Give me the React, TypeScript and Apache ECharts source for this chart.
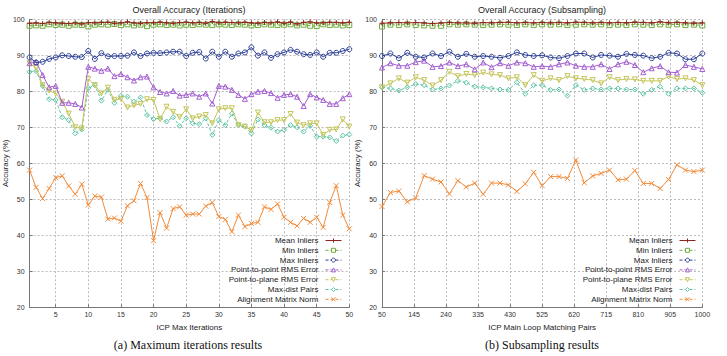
import React, { useEffect, useRef } from "react";
import * as echarts from "echarts";

// ---------- data ----------
const iterX = [1, 2, 3, 4, 5, 6, 7, 8, 9, 10, 11, 12, 13, 14, 15, 16, 17, 18, 19, 20, 21, 22, 23, 24, 25, 26, 27, 28, 29, 30, 31, 32, 33, 34, 35, 36, 37, 38, 39, 40, 41, 42, 43, 44, 45, 46, 47, 48, 49, 50];
const iterTicks = [5, 10, 15, 20, 25, 30, 35, 40, 45, 50];

const subX = [50, 75, 100, 125, 150, 175, 200, 225, 250, 275, 300, 325, 350, 375, 400, 425, 450, 475, 500, 525, 550, 575, 600, 625, 650, 675, 700, 725, 750, 775, 800, 825, 850, 875, 900, 925, 950, 975, 1000];
const subTicks = [50, 145, 240, 335, 430, 525, 620, 715, 810, 905, 1000];

const seriesNames = [
  "Mean Inliers",
  "Min Inliers",
  "Max Inliers",
  "Point-to-point RMS Error",
  "Point-to-plane RMS Error",
  "Max-dist Pairs",
  "Alignment Matrix Norm",
];

// Iterations panel
const iterMean = [98.9, 99.0, 98.8, 99.1, 99.0, 98.9, 98.8, 99.0, 98.7, 99.1, 99.0, 99.1, 99.2, 98.9, 99.0, 99.3, 99.0, 98.9, 99.1, 99.0, 99.2, 99.0, 98.9, 99.1, 99.2, 99.0, 99.1, 98.9, 99.4, 99.0, 99.2, 99.1, 99.0, 99.2, 99.0, 98.9, 99.1, 99.0, 99.3, 98.9, 99.2, 98.7, 99.1, 99.3, 99.0, 99.0, 99.2, 99.1, 99.0, 99.2];
const iterMin = [98.2, 98.3, 98.2, 98.6, 98.4, 98.5, 98.2, 98.5, 98.4, 98.0, 98.5, 98.6, 98.5, 98.7, 98.4, 98.6, 98.3, 98.5, 98.1, 98.5, 98.6, 98.4, 98.5, 98.3, 98.5, 98.4, 98.6, 98.5, 98.4, 98.6, 98.5, 98.4, 98.6, 98.5, 98.3, 98.4, 98.6, 98.5, 98.4, 98.5, 98.6, 98.3, 98.5, 98.2, 98.1, 98.6, 98.4, 98.5, 98.3, 98.4];
const iterMax = [89.4, 88.0, 88.2, 89.0, 89.4, 90.0, 89.8, 89.6, 89.5, 91.2, 89.0, 90.6, 89.7, 89.8, 89.8, 89.9, 90.8, 89.8, 90.5, 90.7, 90.6, 90.8, 91.0, 91.0, 89.8, 90.7, 90.9, 89.1, 91.0, 89.6, 91.0, 89.6, 90.5, 90.8, 92.2, 89.9, 90.8, 89.3, 90.3, 90.8, 91.5, 91.0, 90.3, 90.1, 90.8, 89.6, 90.7, 90.7, 91.2, 91.7];
const iterP2P = [87.8, 88.1, 84.5, 81.1, 81.5, 76.8, 76.8, 76.5, 75.5, 86.8, 86.3, 85.7, 86.3, 84.2, 84.8, 83.9, 83.0, 83.9, 84.1, 81.1, 79.8, 79.4, 80.1, 78.8, 79.0, 79.4, 78.5, 79.4, 76.6, 81.5, 81.3, 80.4, 79.0, 77.9, 79.2, 79.9, 80.1, 79.5, 78.2, 79.0, 79.2, 78.5, 75.9, 79.2, 78.3, 77.6, 76.5, 76.5, 78.1, 79.2];
const iterP2Plane = [87.8, 86.5, 81.7, 80.2, 79.4, 77.1, 73.8, 70.0, 69.7, 83.4, 81.7, 79.4, 81.0, 77.6, 77.9, 75.5, 76.1, 76.5, 77.8, 77.6, 72.3, 75.7, 74.3, 72.8, 75.0, 72.5, 73.0, 73.4, 71.1, 75.0, 75.3, 75.3, 70.6, 70.2, 69.2, 74.1, 71.4, 71.4, 72.0, 72.0, 73.7, 71.3, 70.6, 71.1, 71.1, 67.9, 69.3, 69.4, 72.2, 70.2];
const iterMaxDist = [85.4, 85.6, 81.5, 77.8, 77.6, 72.8, 72.0, 68.3, 69.4, 80.9, 81.7, 77.4, 80.4, 76.8, 78.7, 78.5, 77.1, 78.3, 73.4, 72.3, 72.5, 71.6, 72.8, 70.4, 72.5, 71.1, 70.9, 72.5, 67.9, 72.0, 70.6, 73.8, 70.6, 70.2, 68.3, 72.2, 70.6, 69.9, 68.8, 69.3, 70.6, 70.0, 68.8, 70.4, 67.4, 67.4, 67.2, 66.2, 67.7, 68.0];
const iterNorm = [58.1, 53.3, 50.2, 53.0, 56.0, 56.5, 53.7, 51.4, 54.2, 48.4, 50.9, 50.6, 44.5, 44.8, 43.9, 48.2, 49.6, 54.4, 50.5, 38.5, 46.3, 42.0, 47.4, 47.9, 45.6, 45.9, 45.9, 48.1, 49.1, 45.2, 44.4, 41.0, 45.6, 42.4, 43.3, 43.6, 47.9, 47.2, 48.7, 45.0, 43.6, 42.6, 44.7, 43.6, 45.0, 42.2, 49.1, 53.8, 45.6, 41.8];

// Subsampling panel
const subMean = [98.9, 99.0, 99.1, 99.0, 99.1, 99.0, 98.8, 99.0, 99.1, 99.0, 99.0, 98.9, 99.1, 99.0, 99.1, 99.2, 99.0, 99.1, 99.0, 99.1, 99.0, 99.1, 99.0, 99.2, 99.1, 99.0, 99.1, 99.0, 99.1, 99.0, 99.2, 99.1, 99.0, 99.3, 99.0, 99.1, 99.0, 98.9, 99.0];
const subMin = [98.0, 98.5, 98.4, 98.6, 98.4, 98.3, 98.2, 98.2, 98.6, 98.5, 98.6, 98.5, 98.4, 98.5, 98.6, 98.5, 98.4, 98.6, 98.4, 98.6, 98.5, 98.6, 98.4, 98.5, 98.6, 98.5, 98.6, 98.4, 98.5, 98.4, 98.6, 98.5, 98.4, 98.6, 98.5, 98.6, 98.4, 98.5, 98.3];
const subMax = [89.8, 90.5, 89.2, 90.7, 89.6, 89.4, 90.5, 89.8, 91.0, 89.6, 90.4, 89.6, 89.8, 89.6, 89.3, 89.8, 90.8, 90.1, 89.8, 90.0, 89.4, 89.2, 89.8, 90.5, 90.5, 89.4, 90.1, 89.9, 89.6, 90.4, 90.1, 89.9, 89.2, 89.6, 90.7, 90.5, 88.9, 88.9, 90.5];
const subP2P = [86.6, 87.8, 87.1, 87.1, 88.1, 88.5, 86.8, 87.0, 88.0, 87.0, 87.5, 86.1, 88.0, 86.7, 87.8, 87.1, 88.0, 87.8, 86.8, 87.0, 86.8, 87.5, 88.0, 87.1, 86.8, 86.8, 87.5, 86.2, 87.5, 88.2, 87.3, 85.3, 86.4, 87.0, 85.3, 85.2, 87.3, 86.8, 86.2];
const subP2Plane = [81.1, 82.2, 83.6, 82.4, 83.9, 83.1, 81.6, 83.1, 85.4, 84.2, 84.8, 84.5, 85.2, 84.7, 84.5, 83.6, 83.9, 81.7, 84.5, 82.9, 83.6, 83.1, 84.2, 83.6, 83.4, 83.1, 82.2, 83.9, 83.1, 83.4, 83.3, 82.9, 82.9, 82.9, 84.1, 83.4, 83.6, 83.1, 81.7];
const subMaxDist = [81.1, 80.8, 80.2, 81.1, 82.0, 81.7, 80.5, 80.8, 81.6, 82.9, 82.4, 81.3, 81.1, 80.8, 80.5, 80.4, 82.5, 79.3, 81.7, 81.7, 80.4, 80.5, 78.8, 81.7, 80.4, 80.8, 80.5, 80.8, 80.8, 80.5, 80.5, 79.3, 80.4, 81.3, 79.3, 80.8, 80.8, 80.8, 79.6];
const subNorm = [48.0, 51.9, 52.3, 49.3, 50.4, 56.6, 55.6, 54.8, 51.5, 55.2, 53.4, 54.5, 51.4, 54.5, 54.5, 54.0, 52.2, 54.3, 57.5, 53.8, 56.3, 56.3, 55.8, 60.9, 54.6, 56.5, 57.2, 58.1, 55.4, 55.6, 58.0, 54.4, 54.4, 53.0, 55.5, 59.6, 58.1, 57.7, 58.1];

const iterSeries = [iterMean, iterMin, iterMax, iterP2P, iterP2Plane, iterMaxDist, iterNorm];
const subSeries = [subMean, subMin, subMax, subP2P, subP2Plane, subMaxDist, subNorm];

// ---------- styles ----------
const SANS = "'Liberation Sans', Arial, sans-serif";
const SERIF = "'Liberation Serif', 'Times New Roman', serif";
const styles = [
  { color: "#8e261c", symbol: "path://M5,0L5,10M0,5L10,5", hollow: false, dash: false, size: 5 },
  { color: "#6fae3e", symbol: "rect", hollow: true, dash: true, size: 5 },
  { color: "#2d3f96", symbol: "circle", hollow: true, dash: false, size: 5 },
  { color: "#a35fd0", symbol: "triangle", hollow: true, dash: false, size: 5 },
  { color: "#c4c55a", symbol: "path://M0,0L10,0L5,9Z", hollow: true, dash: false, size: 5 },
  { color: "#5cc4a4", symbol: "diamond", hollow: true, dash: true, size: 5 },
  { color: "#f28b3a", symbol: "path://M0,0L10,10M10,0L0,10", hollow: false, dash: false, size: 5 },
];

const GRID_TOP = 19.3;
const GRID_H = 288;

function App() {
  const ref = useRef<HTMLDivElement>(null);

  useEffect(() => {
    if (!ref.current) return;
    const chart = echarts.init(ref.current, undefined, { renderer: "svg" });

    const itemStyleOf = (si: number) => {
      const st = styles[si];
      return {
        color: st.hollow ? "#ffffff" : st.color,
        borderColor: st.color,
        borderWidth: 1,
      };
    };

    const makeSeries = (xs: number[], data: number[][], axisIndex: number) =>
      data.map((vals, si) => {
        const st = styles[si];
        return {
          type: "line",
          name: seriesNames[si],
          xAxisIndex: axisIndex,
          yAxisIndex: axisIndex,
          data: vals.map((v, i) => [xs[i], v]),
          symbol: st.symbol,
          symbolSize: st.size,
          showSymbol: true,
          lineStyle: { color: st.color, width: 1, type: st.dash ? [3, 2] : "solid" },
          itemStyle: {
            color: st.hollow ? "rgba(255,255,255,0)" : st.color,
            borderColor: st.color,
            borderWidth: 1,
          },
          emphasis: { disabled: true },
          z: 2 + (6 - si),
        };
      });

    const xAxisBase = (min: number, max: number, ticks: number[], name: string, gridIndex: number) => ({
      type: "value",
      gridIndex,
      min,
      max,
      name,
      nameLocation: "middle",
      nameGap: 12,
      nameTextStyle: { fontFamily: SANS, fontSize: 8, color: "#222" },
      axisLine: { show: true, lineStyle: { color: "#777", width: 1 } },
      axisTick: { show: true, inside: true, length: 3, lineStyle: { color: "#777" }, customValues: ticks },
      axisLabel: {
        customValues: ticks,
        formatter: (v: number) => String(v),
        fontFamily: SANS,
        fontSize: 7,
        color: "#333",
        margin: 4,
      },
      splitLine: { show: true, lineStyle: { color: "#bbb", type: [2, 2], width: 1 } },
    });

    const yAxisBase = (gridIndex: number, gap: number) => ({
      type: "value",
      gridIndex,
      min: 20,
      max: 100,
      interval: 10,
      name: "Accuracy (%)",
      nameLocation: "middle",
      nameGap: gap,
      nameTextStyle: { fontFamily: SANS, fontSize: 8, color: "#222" },
      axisLine: { show: true, lineStyle: { color: "#777", width: 1 } },
      axisTick: { show: true, inside: true, length: 3, lineStyle: { color: "#777" } },
      axisLabel: { fontFamily: SANS, fontSize: 7, color: "#333", margin: 5 },
      splitLine: { show: true, lineStyle: { color: "#bbb", type: [2, 2], width: 1 } },
    });

    const legendBase = (right: number) => ({
      orient: "vertical",
      right,
      top: 236.5,
      align: "right",
      padding: 0,
      itemGap: 1.8,
      itemWidth: 16,
      itemHeight: 5,
      selectedMode: false,
      lineStyle: { width: 1 },
      data: seriesNames.map((n, si) => ({
        name: n,
        itemStyle: itemStyleOf(si),
        lineStyle: { width: 1, color: styles[si].color, type: si === 0 ? "solid" : [3, 2] },
      })),
      textStyle: { fontFamily: SANS, fontSize: 8, color: "#222", padding: [0, 2, 0, 0], lineHeight: 8 },
    });

    const option = {
      animation: false,
      backgroundColor: "#fff",
      grid: [
        { left: 28.8, top: GRID_TOP, width: 320.5, height: GRID_H },
        { left: 382, top: GRID_TOP, width: 320.3, height: GRID_H },
      ],
      xAxis: [
        xAxisBase(1, 50, iterTicks, "ICP Max Iterations", 0),
        xAxisBase(50, 1000, subTicks, "ICP Main Loop Matching Pairs", 1),
      ],
      yAxis: [yAxisBase(0, 14), yAxisBase(1, 13)],
      legend: [legendBase(727 - 342), legendBase(727 - 696)],
      series: [...makeSeries(iterX, iterSeries, 0), ...makeSeries(subX, subSeries, 1)],
      graphic: [
        {
          type: "text",
          x: 189,
          y: 10,
          style: { text: "Overall Accuracy (Iterations)", fontFamily: SANS, fontSize: 9, fill: "#222", align: "center", verticalAlign: "middle" },
        },
        {
          type: "text",
          x: 542,
          y: 10,
          style: { text: "Overall Accuracy (Subsampling)", fontFamily: SANS, fontSize: 9, fill: "#222", align: "center", verticalAlign: "middle" },
        },
        {
          type: "text",
          x: 188,
          y: 345,
          style: { text: "(a) Maximum iterations results", fontFamily: SERIF, fontSize: 12, fill: "#111", align: "center", verticalAlign: "middle" },
        },
        {
          type: "text",
          x: 542,
          y: 345,
          style: { text: "(b) Subsampling results", fontFamily: SERIF, fontSize: 12, fill: "#111", align: "center", verticalAlign: "middle" },
        },
      ],
    };

    chart.setOption(option as any);
    return () => chart.dispose();
  }, []);

  return (
    <div
      ref={ref}
      style={{ position: "fixed", left: 0, top: 0, width: 727, height: 356, background: "#fff" }}
    />
  );
}

export default App;
